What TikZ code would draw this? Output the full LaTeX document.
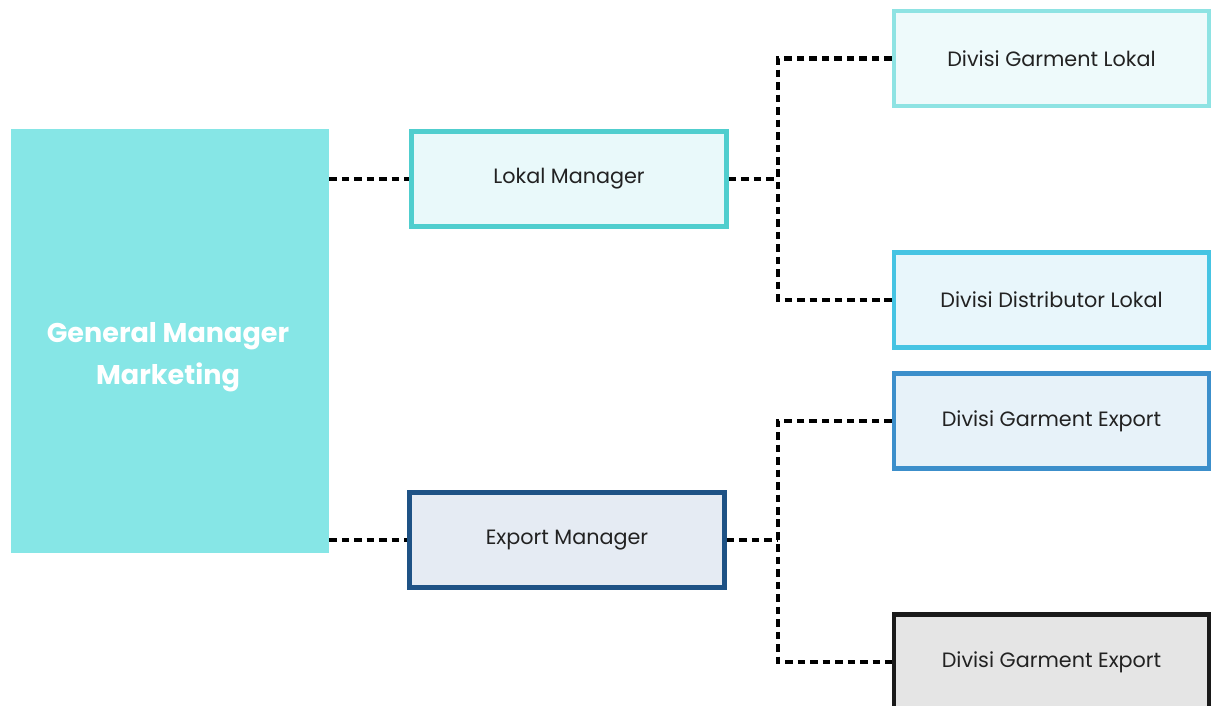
\documentclass[tikz,border=0pt]{standalone}
\usepackage{fontspec}
\setmainfont{Poppins}
\definecolor{gmfill}{RGB}{134,230,230}
\definecolor{lkline}{RGB}{80,206,206}
\definecolor{lkfill}{RGB}{233,249,250}
\definecolor{exline}{RGB}{30,82,133}
\definecolor{exfill}{RGB}{229,235,243}
\definecolor{glline}{RGB}{142,227,227}
\definecolor{glfill}{RGB}{238,250,251}
\definecolor{dlline}{RGB}{70,196,227}
\definecolor{dlfill}{RGB}{232,246,251}
\definecolor{geline}{RGB}{60,143,203}
\definecolor{gefill}{RGB}{231,242,249}
\definecolor{gxline}{RGB}{26,26,26}
\definecolor{gxfill}{RGB}{229,229,229}
\definecolor{txt}{RGB}{34,34,34}
\tikzset{
  unit/.style={draw, line width=2.8pt, minimum width=6.3cm, minimum height=1.9cm,
    text=txt, font=\fontsize{11.8}{14}\selectfont},
  link/.style={line width=2.3pt, dash pattern=on 4.3pt off 2.8pt},
}

\begin{document}
\begin{tikzpicture}[x=0.02cm,y=-0.02cm]
\useasboundingbox (0,0) rectangle (1211,706);
\node[fill=gmfill, minimum width=6.36cm, minimum height=8.48cm] (gmm) at (170,341) {};
\node[text=white, font=\bfseries\fontsize{15.4}{24}\selectfont, align=center] (gml) at (168,357) {General Manager\\Marketing};
\node[unit, draw=lkline, fill=lkfill] (lkm) at (569,179) {Lokal Manager};
\node[unit, draw=exline, fill=exfill] (exm) at (567,540) {Export Manager};
\node[unit, draw=glline, fill=glfill] (dgl) at (1051.5,58.5) {Divisi Garment Lokal};
\node[unit, draw=dlline, fill=dlfill] (ddl) at (1051.5,300) {Divisi Distributor Lokal};
\node[unit, draw=geline, fill=gefill] (dge) at (1051.5,421) {Divisi Garment Export};
\node[unit, draw=gxline, fill=gxfill] (dgx) at (1051.5,662) {Divisi Garment Export};
\coordinate (lkj) at (lkm.east -| 778,0);
\coordinate (exj) at (exm.east -| 778,0);
\draw[link] (lkm.west -| gmm.east) -- (lkm.west);
\draw[link] (exm.west -| gmm.east) -- (exm.west);
\draw[link] (lkm.east) -- (lkj);
\draw[link] (exm.east) -- (exj);
\draw[link] (dgl.west) -| (lkj) |- (ddl.west);
\draw[link] (dge.west) -| (exj) |- (dgx.west);
\end{tikzpicture}
\end{document}
